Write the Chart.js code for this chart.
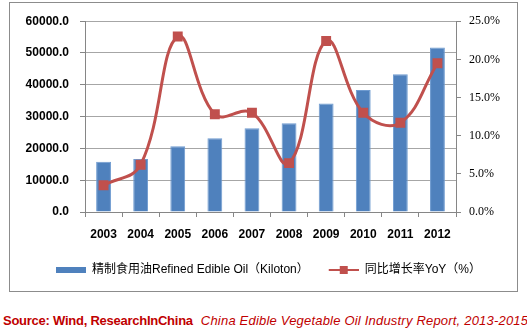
<!DOCTYPE html>
<html>
<head>
<meta charset="utf-8">
<script src="https://cdn.jsdelivr.net/npm/chart.js@4/dist/chart.umd.min.js"></script>
<style>
  html, body { margin: 0; padding: 0; background: #fff; }
  body { width: 527px; height: 332px; position: relative; overflow: hidden; }
  #frame { position: absolute; left: 9px; top: 2px; width: 509px; height: 290px; box-sizing: border-box; border: 1px solid #8c8c8c; }
  #frame canvas { display: block; }
  #source { position: absolute; left: 3px; top: 313px; white-space: nowrap; color: #c00000; font-family: 'Liberation Sans', Arial, sans-serif; font-size: 13px; }
  #source b { font-weight: bold; letter-spacing: -0.25px; }
  #source i { margin-left: 8px; letter-spacing: 0.2px; }
</style>
</head>
<body>
<div id="frame"><canvas id="myChart" width="507" height="288"></canvas></div>
<div id="source"><b>Source: Wind, ResearchInChina</b><i>China Edible Vegetable Oil Industry Report, 2013-2015</i></div>
<script>
const years = ['2003', '2004', '2005', '2006', '2007', '2008', '2009', '2010', '2011', '2012'];
const oilOutput = [15800, 16700, 20700, 23200, 26300, 27900, 34100, 38400, 43300, 51700];
const yoyGrowth = [3.5, 6.2, 23.0, 12.8, 13.0, 6.4, 22.4, 13.0, 11.7, 19.5];
const oilLabel = '精制食用油Refined Edible Oil（Kiloton）';
const yoyLabel = '同比增长率YoY（%）';

const blue = '#4f81bd';
const red = '#c0504d';

// legend symbols
function makeSymbol(kind) {
  const c = document.createElement('canvas');
  c.width = 40; c.height = 12;
  const g = c.getContext('2d');
  if (kind == 'bar') {
    g.fillStyle = blue;
    g.fillRect(10, 3, 30, 6);
  } else {
    g.strokeStyle = red;
    g.lineWidth = 2;
    g.beginPath(); g.moveTo(10, 6); g.lineTo(40, 6); g.stroke();
    g.fillStyle = red;
    g.fillRect(21, 2, 8, 8);
  }
  return c;
}
const barSymbol = makeSymbol('bar');
const lineSymbol = makeSymbol('line');

const data = {
  labels: years,
  datasets: [
    {
      type: 'line',
      label: yoyLabel,
      data: yoyGrowth,
      yAxisID: 'y1',
      borderColor: red,
      backgroundColor: red,
      borderWidth: 3,
      tension: 0.4,
      pointStyle: 'rect',
      pointRadius: 7,
      pointBorderWidth: 0,
      order: 0
    },
    {
      type: 'bar',
      label: oilLabel,
      data: oilOutput,
      yAxisID: 'y',
      backgroundColor: blue,
      borderColor: '#6f9bd0',
      borderWidth: 1,
      categoryPercentage: 1,
      barPercentage: 0.4,
      order: 1
    }
  ]
};

const config = {
  data: data,
  options: {
    responsive: false,
    animation: false,
    layout: { padding: { left: 0, right: 0, top: 15, bottom: 5 } },
    plugins: {
      tooltip: { enabled: false },
      legend: {
        position: 'bottom',
        labels: {
          usePointStyle: true,
          pointStyleWidth: 40,
          padding: 10,
          color: '#000',
          font: { family: "'Liberation Sans', 'Noto Sans CJK SC', sans-serif", size: 12 },
          generateLabels: function(chart) {
            return [
              { text: oilLabel, pointStyle: barSymbol, datasetIndex: 1, lineWidth: 0, fontColor: '#000' },
              { text: yoyLabel, pointStyle: lineSymbol, datasetIndex: 0, lineWidth: 0, fontColor: '#000' }
            ];
          }
        }
      }
    },
    scales: {
      x: {
        offset: true,
        grid: { display: true, drawOnChartArea: false, drawTicks: true, tickLength: 5, color: '#868686', offset: true },
        border: { color: '#868686' },
        ticks: { color: '#000', padding: 10, font: { family: "'Liberation Sans', Arial", size: 12, weight: 'bold' } },
        afterFit: function(s) { s.height = 42; }
      },
      y: {
        position: 'left',
        min: 0,
        max: 60000,
        ticks: {
          stepSize: 10000,
          padding: 11,
          color: '#000',
          font: { family: "'Liberation Sans', Arial", size: 12, weight: 'bold' },
          callback: function(v) { return v.toFixed(1); }
        },
        grid: { color: '#a6a6a6', tickLength: 5, tickColor: '#868686' },
        border: { color: '#868686' },
        afterFit: function(s) { s.width = 75; }
      },
      y1: {
        position: 'right',
        min: 0,
        max: 25,
        ticks: {
          stepSize: 5,
          padding: 8,
          color: '#000',
          font: { family: "'Liberation Serif', 'Times New Roman', serif", size: 12 },
          callback: function(v) { return v.toFixed(1) + '%'; }
        },
        grid: { drawOnChartArea: false, tickLength: 5, color: '#868686' },
        border: { color: '#868686' },
        afterFit: function(s) { s.width = 61; }
      }
    }
  }
};

var myChart = new Chart(document.getElementById('myChart'), config);
</script>
</body>
</html>
